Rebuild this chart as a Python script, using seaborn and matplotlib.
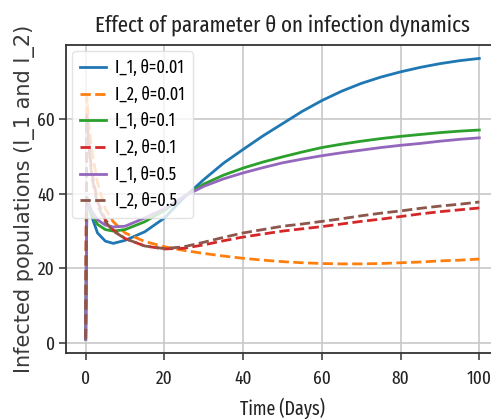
import os
import matplotlib
matplotlib.use("Agg")
import matplotlib.pyplot as plt
import seaborn as sns
import pandas as pd
from matplotlib import font_manager as fm
from matplotlib.ft2font import FT2Font

# ---- data ----
time_days = [0, 0.3, 0.7, 1.5, 3, 5, 7, 10, 15, 20, 25, 30, 35, 40, 45, 50, 55, 60,
             65, 70, 75, 80, 85, 90, 95, 100]
I1_theta001 = [1, 39, 38, 34, 29.5, 27.3, 26.7, 27.5, 29.8, 33.5, 39.0, 43.8, 48.2, 51.9, 55.5,
               58.8, 62.1, 65.0, 67.5, 69.6, 71.3, 72.7, 73.9, 74.9, 75.7, 76.3]
I2_theta001 = [1, 66, 60, 52, 43, 36, 32.5, 29.5, 27.2, 25.8, 24.8, 24.0, 23.3, 22.7, 22.2,
               21.8, 21.5, 21.3, 21.2, 21.2, 21.3, 21.5, 21.7, 22.0, 22.2, 22.5]
I1_theta01 = [1, 38, 37, 34.5, 31.8, 30.4, 30.0, 30.4, 32.5, 35.5, 39.3, 42.6, 45.0, 46.9, 48.5,
              49.9, 51.2, 52.4, 53.3, 54.1, 54.8, 55.4, 55.9, 56.4, 56.8, 57.1]
I2_theta01 = [1, 61, 55, 46, 38, 33, 30.3, 28, 26, 25.2, 25.4, 26.3, 27.4, 28.4, 29.2,
              30.0, 30.6, 31.2, 31.9, 32.6, 33.2, 33.9, 34.6, 35.2, 35.7, 36.2]
I1_theta05 = [1, 38, 37.5, 35.5, 33, 31.6, 31.1, 31.3, 33.5, 36, 39.3, 42, 44, 45.6, 47,
              48.3, 49.3, 50.2, 51, 51.7, 52.4, 53, 53.5, 54.1, 54.6, 55.0]
I2_theta05 = [1, 60, 54, 45, 37, 32.5, 30, 28, 26, 25.3, 25.8, 27.0, 28.3, 29.5, 30.4,
              31.3, 31.9, 32.6, 33.3, 34.1, 34.8, 35.4, 36.1, 36.7, 37.2, 37.8]

series_labels = ["I_1, θ=0.01", "I_2, θ=0.01", "I_1, θ=0.1", "I_2, θ=0.1", "I_1, θ=0.5", "I_2, θ=0.5"]
series_values = [I1_theta001, I2_theta001, I1_theta01, I2_theta01, I1_theta05, I2_theta05]

x_ticks = [0, 20, 40, 60, 80, 100]
y_ticks = [0, 20, 40, 60]
title_text = "Effect of parameter θ on infection dynamics"
xlabel_text = "Time (Days)"
ylabel_text = "Infected populations (I_1 and I_2)"

# ---- fonts: pick a narrow installed face (with θ) for horizontal texts ----
plt.rcParams.update(matplotlib.rcParamsDefault)
plt.rcParams["font.family"] = ["DejaVu Sans"]

BAD = ("bold", "italic", "oblique", "light", "medium", "thin", "black", "semibold", "extrabold", "heavy")


def score(path):
    b = os.path.basename(path).lower()
    if any(k in b for k in BAD):
        return None
    if not b.endswith((".ttf", ".otf")):
        return None
    fam_bonus = 0 if ("dejavu" in b) else (1 if "noto" in b else 2)
    if "extracondensed" in b or "extra-condensed" in b or "narrow" in b:
        return (0, fam_bonus, b)
    if "semicondensed" in b or "semi-condensed" in b:
        return (2, fam_bonus, b)
    if "condensed" in b:
        return (1, fam_bonus, b)
    return None


def has_glyphs(path, chars="θ=_,.0123456789"):
    try:
        cmap = FT2Font(path).get_charmap()
    except Exception:
        return False
    return all(ord(ch) in cmap for ch in chars)


cands = []
for f in fm.fontManager.ttflist:
    s = score(f.fname)
    if s is not None and has_glyphs(f.fname):
        cands.append((s, f.fname))
cands.sort()
narrow_path = cands[0][1] if cands else None


def fprops(size):
    if narrow_path:
        return fm.FontProperties(fname=narrow_path, size=size)
    return fm.FontProperties(family="DejaVu Sans", size=size)


colors = ["#1f77b4", "#ff7f0e", "#2ca02c", "#d62728", "#9467bd", "#8c564b"]
styles = ["-", "--", "-", "--", "-", "--"]

fig = plt.figure(figsize=(4.91, 4.19), dpi=100)
ax = fig.add_axes([66 / 491, 66 / 419, 433 / 491, 308 / 419])

for lab, vals, c, ls in zip(series_labels, series_values, colors, styles):
    df = pd.DataFrame({"t": time_days, "v": vals})
    sns.lineplot(data=df, x="t", y="v", ax=ax, color=c, linestyle=ls,
                 linewidth=2.0, label=lab)

ax.set_xlim(-5, 105)
ax.set_ylim(-2.7, 79.9)
ax.set_xticks(x_ticks)
ax.set_yticks(y_ticks)
ax.grid(True, color="#c8c8c8", linewidth=1.2)
for s in ax.spines.values():
    s.set_color("#333333")
    s.set_linewidth(1.3)
ax.tick_params(axis="both", length=5, width=1.1, color="#333333", labelcolor="#222222")
ax.tick_params(axis="x", pad=7)
ax.tick_params(axis="y", pad=3)

renderer = fig.canvas.get_renderer()


def fit_size(text_str, target_px, base=14.0):
    t = fig.text(0, 0, text_str, fontproperties=fprops(base))
    w = t.get_window_extent(renderer).width
    t.remove()
    return base * target_px / w


tick_size = min(fit_size("20", 16.7), 15.5)
title_size = min(fit_size(title_text, 375), 17)
xlabel_size = min(fit_size(xlabel_text, 85), 15.5)
legend_size = min(fit_size("I_1, θ=0.01", 68), 13)

for lbl in ax.get_xticklabels() + ax.get_yticklabels():
    lbl.set_fontproperties(fprops(tick_size))

ax.set_title(title_text, fontproperties=fprops(title_size), color="#222222", pad=9)
ax.set_xlabel(xlabel_text, fontproperties=fprops(xlabel_size), color="#222222", labelpad=7)

# y label in regular DejaVu Sans, sized so its length matches the reference
yl = fig.text(0, 0, ylabel_text, fontsize=14, family="DejaVu Sans")
yl_w = yl.get_window_extent(renderer).width
yl.remove()
ylabel_size = 14 * 350 / yl_w
ax.set_ylabel(ylabel_text, fontsize=ylabel_size, color="#3a3a3a", family="DejaVu Sans", labelpad=1.5)

em_px = legend_size * 100 / 72
leg = ax.legend(loc="upper left", prop=fprops(legend_size), frameon=True,
                handlelength=26 / em_px, handletextpad=9 / em_px,
                borderpad=0.45, labelspacing=0.5, borderaxespad=6 / em_px)
leg.get_frame().set_edgecolor("#dddddd")

fig.savefig("out.png", dpi=100)
